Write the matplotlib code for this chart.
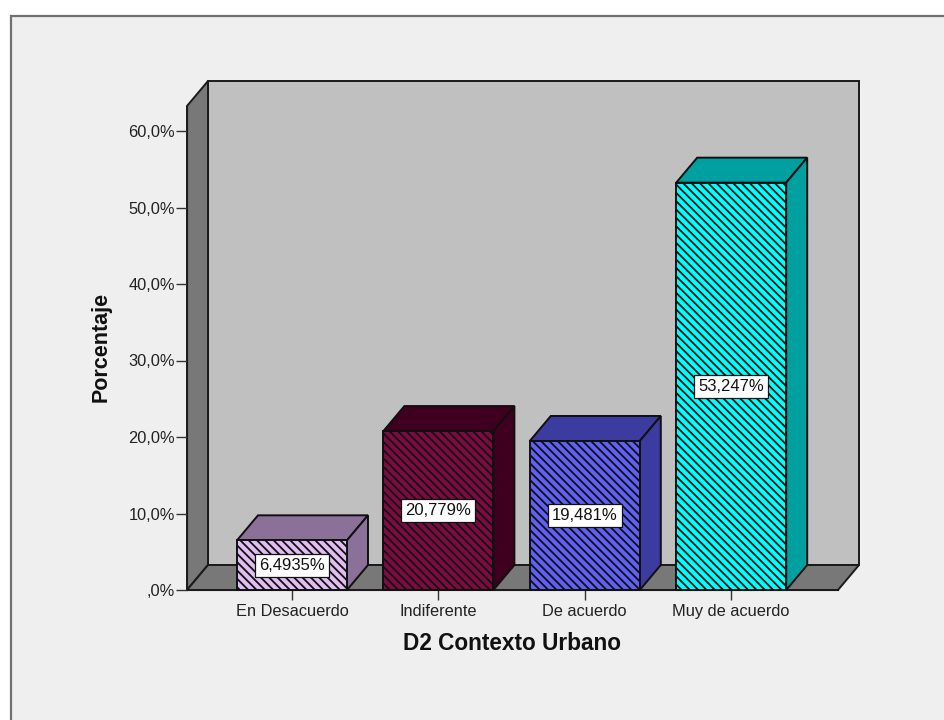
#! /usr/bin/env python
# -*- coding: utf8 -*-

import matplotlib
matplotlib.use('Agg')
import matplotlib.pyplot as plt
from matplotlib.patches import Polygon, Rectangle

categories = ['En Desacuerdo', 'Indiferente', 'De acuerdo', 'Muy de acuerdo']
values = [6.4935, 20.779, 19.481, 53.247]
value_labels = ['6,4935%', '20,779%', '19,481%', '53,247%']
front_colors = ['#E2BDF2', '#7E0A42', '#6060F5', '#00FFFF']
top_colors = ['#8B7099', '#3F0020', '#3C3CA0', '#00A0A0']
yticks = [0, 10, 20, 30, 40, 50, 60]
yticklabels = [',0%', '10,0%', '20,0%', '30,0%', '40,0%', '50,0%', '60,0%']

W, H = 944, 720
plt.rcParams['font.family'] = ['Liberation Sans', 'DejaVu Sans']
plt.rcParams['hatch.linewidth'] = 1.3

fig = plt.figure(figsize=(W/100, H/100), dpi=100, facecolor='white')
fig.add_artist(Rectangle((11/W, -0.1), 1.1, 0.1 + (H-16)/H, transform=fig.transFigure,
                         fc='#EFEFEF', ec='#707070', lw=1.6, zorder=-1))

# front plane of the plot in pixels
ax = fig.add_axes([187/W, (H-590)/H, (838-187)/W, (590-106)/H])
ax.patch.set_visible(False)
px_x = 146.4  # pixels per category
px_y = 7.65   # pixels per percent
ax.set_xlim((187-292)/px_x, (838-292)/px_x)
ax.set_ylim(0, (590-106)/px_y)
dx = 21/px_x
dy = 25/px_y
x0, x1 = ax.get_xlim()
y0, y1 = ax.get_ylim()
width = 110/px_x

ax.add_patch(Polygon([(x0+dx, y0+dy), (x1+dx, y0+dy), (x1+dx, y1+dy), (x0+dx, y1+dy)],
                     fc='#C0C0C0', ec='#1A1A1A', lw=1.4, clip_on=False, zorder=1))
ax.add_patch(Polygon([(x0, y0), (x0+dx, y0+dy), (x0+dx, y1+dy), (x0, y1)],
                     fc='#787878', ec='#1A1A1A', lw=1.4, clip_on=False, zorder=1))
ax.add_patch(Polygon([(x0, y0), (x1, y0), (x1+dx, y0+dy), (x0+dx, y0+dy)],
                     fc='#787878', ec='#1A1A1A', lw=1.4, clip_on=False, zorder=1))

for i, v in enumerate(values):
    l, r = i - width/2, i + width/2
    ax.add_patch(Polygon([(l, v), (r, v), (r+dx, v+dy), (l+dx, v+dy)],
                         fc=top_colors[i], ec='#101010', lw=1.4, clip_on=False, zorder=2))
    ax.add_patch(Polygon([(r, 0), (r+dx, dy), (r+dx, v+dy), (r, v)],
                         fc=top_colors[i], ec='#101010', lw=1.4, clip_on=False, zorder=2))
    ax.add_patch(Rectangle((l, 0), width, v, fc=front_colors[i], ec='#101010', lw=1.4,
                           hatch='\\\\\\\\', clip_on=False, zorder=3))
    ax.text(i, v/2, value_labels[i], ha='center', va='center', fontsize=12, color='#111111', zorder=4,
            bbox=dict(boxstyle='square,pad=0.24', fc='white', ec='#111111', lw=0.9))

for s in ['top', 'right']:
    ax.spines[s].set_visible(False)
ax.spines['left'].set_color('#1A1A1A')
ax.spines['bottom'].set_color('#1A1A1A')
ax.set_xticks(range(len(categories)))
ax.set_xticklabels(categories, fontsize=11.8, va='baseline')
ax.set_yticks(yticks)
ax.set_yticklabels(yticklabels, fontsize=11.8)
ax.tick_params(axis='x', length=7, width=1, color='#333333', labelcolor='#222222', pad=11.5)
ax.tick_params(axis='y', length=8, width=1, color='#333333', labelcolor='#222222', pad=0.5)

fig.text(101.5/W, (H-347)/H, 'Porcentaje', rotation=90, ha='center', va='center',
         fontsize=15.5, fontweight='bold', color='#111111')
fig.text(512/W, (H-644)/H, 'D2 Contexto Urbano', ha='center', va='center',
         fontsize=16.3, fontweight='bold', color='#111111')

fig.savefig('out.png', dpi=100)
